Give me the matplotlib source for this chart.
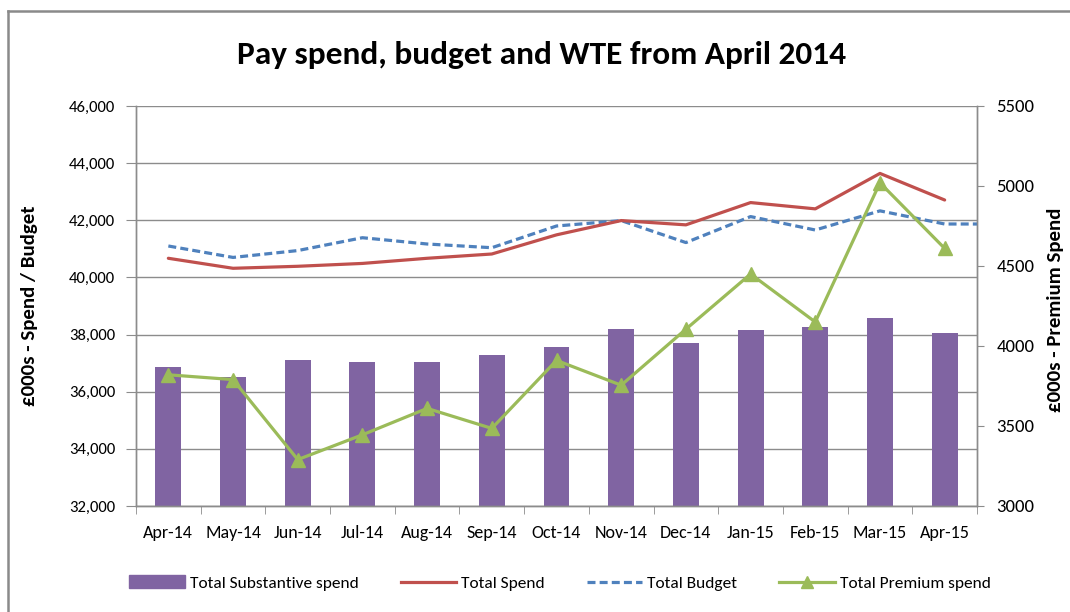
import matplotlib
matplotlib.use("Agg")
import matplotlib.pyplot as plt
import numpy as np
from matplotlib import font_manager
from matplotlib.lines import Line2D
from matplotlib.patches import Patch

months = ["Apr-14", "May-14", "Jun-14", "Jul-14", "Aug-14", "Sep-14", "Oct-14",
          "Nov-14", "Dec-14", "Jan-15", "Feb-15", "Mar-15", "Apr-15"]
substantive = [36880, 36530, 37110, 37040, 37040, 37290, 37570,
               38200, 37710, 38160, 38270, 38580, 38060]
total_spend = [40670, 40320, 40390, 40490, 40670, 40820, 41490,
               41990, 41840, 42620, 42400, 43640, 42710]
total_budget = [41100, 40700, 40940, 41390, 41170, 41040, 41800,
                41990, 41220, 42130, 41660, 42330, 41870]
premium = [3820, 3790, 3290, 3445, 3610, 3485, 3910,
           3755, 4105, 4450, 4150, 5020, 4610]

left_ticks = [32000, 34000, 36000, 38000, 40000, 42000, 44000, 46000]
right_ticks = [3000, 3500, 4000, 4500, 5000, 5500]

avail = {f.name for f in font_manager.fontManager.ttflist}
def pick(*names):
    for n in names:
        if n in avail:
            return n
    return "DejaVu Sans"
FONT = pick("Carlito", "Liberation Sans Narrow", "Lato", "Open Sans")
plt.rcParams['font.family'] = [FONT, 'DejaVu Sans']

PURPLE = "#8064A2"
RED = "#C0504D"
BLUE = "#4F81BD"
GREEN = "#9BBB59"
GRID = "#8C8C8C"

W, H = 1070, 612
fig = plt.figure(figsize=(W / 100, H / 100), dpi=100)
L, R, T, B = 136, 977, 106, 506
ax = fig.add_axes([L / W, 1 - B / H, (R - L) / W, (B - T) / H])
ax2 = ax.twinx()

x = np.arange(len(months))
ax.bar(x, substantive, width=0.40, color=PURPLE, zorder=2)
ax.plot(x, total_spend, color=RED, lw=2.3, zorder=4, solid_capstyle='round')
xb = np.append(x, x[-1] + 0.5)
yb = total_budget + [total_budget[-1]]
ax.plot(xb, yb, color=BLUE, lw=2.3, ls=(0, (2.5, 1.3)), zorder=3)
ax2.plot(x, premium, color=GREEN, lw=2.3, marker='^', markersize=10, zorder=5)

ax.set_xlim(-0.5, len(months) - 0.5)
ax.set_ylim(32000, 46000)
ax2.set_ylim(3000, 5500)
ax.set_yticks(left_ticks)
ax.set_yticklabels([f"{v:,}" for v in left_ticks], fontsize=12)
ax2.set_yticks(right_ticks)
ax2.set_yticklabels([str(v) for v in right_ticks], fontsize=13.5)
ax.set_xticks(x)
ax.set_xticklabels(months, fontsize=13)
ax.set_xticks(np.arange(-0.5, len(months) + 0.5, 1), minor=True)
ax.tick_params(axis='x', which='major', length=0, pad=14)
ax.tick_params(axis='x', which='minor', length=6, color=GRID, direction='out')
ax.tick_params(axis='y', length=7, color=GRID, pad=8)
ax2.tick_params(axis='y', length=5, color=GRID, pad=9)

ax.grid(axis='y', color=GRID, lw=1.0, zorder=0)
ax.set_axisbelow(True)
for a in (ax, ax2):
    a.spines['top'].set_visible(False)
    for sp in ['left', 'right', 'bottom']:
        a.spines[sp].set_color(GRID)
        a.spines[sp].set_linewidth(1.0)

fig.text(542 / W, 1 - 55 / H, "Pay spend, budget and WTE from April 2014",
         ha='center', va='center', fontsize=24, fontweight='bold')
fig.text(30 / W, 1 - 306 / H, "£000s - Spend / Budget", rotation=90,
         ha='center', va='center', fontsize=15, fontweight='bold')
fig.text(1055 / W, 1 - 310 / H, "£000s - Premium Spend", rotation=90,
         ha='center', va='center', fontsize=15, fontweight='bold')

handles = [Patch(color=PURPLE),
           Line2D([], [], color=RED, lw=2.3),
           Line2D([], [], color=BLUE, lw=2.3, ls=(0, (2.5, 1.3))),
           Line2D([], [], color=GREEN, lw=2.3, marker='^', markersize=8)]
labels = ["Total Substantive spend", "Total Spend", "Total Budget", "Total Premium spend"]
fig.legend(handles, labels, loc='center', bbox_to_anchor=(560 / W, 1 - 583 / H),
           ncol=4, frameon=False, fontsize=12.5, handlelength=3.2,
           handletextpad=0.3, columnspacing=2.4, handleheight=0.8)

# outer chart border (left and top visible)
fig.add_artist(Line2D([8 / W, 8 / W], [0, 1 - 11 / H], transform=fig.transFigure,
                      color="#8A8A8A", lw=1.8))
fig.add_artist(Line2D([8 / W, 1], [1 - 11 / H, 1 - 11 / H], transform=fig.transFigure,
                      color="#8A8A8A", lw=1.8))

fig.savefig("out.png", dpi=100)
